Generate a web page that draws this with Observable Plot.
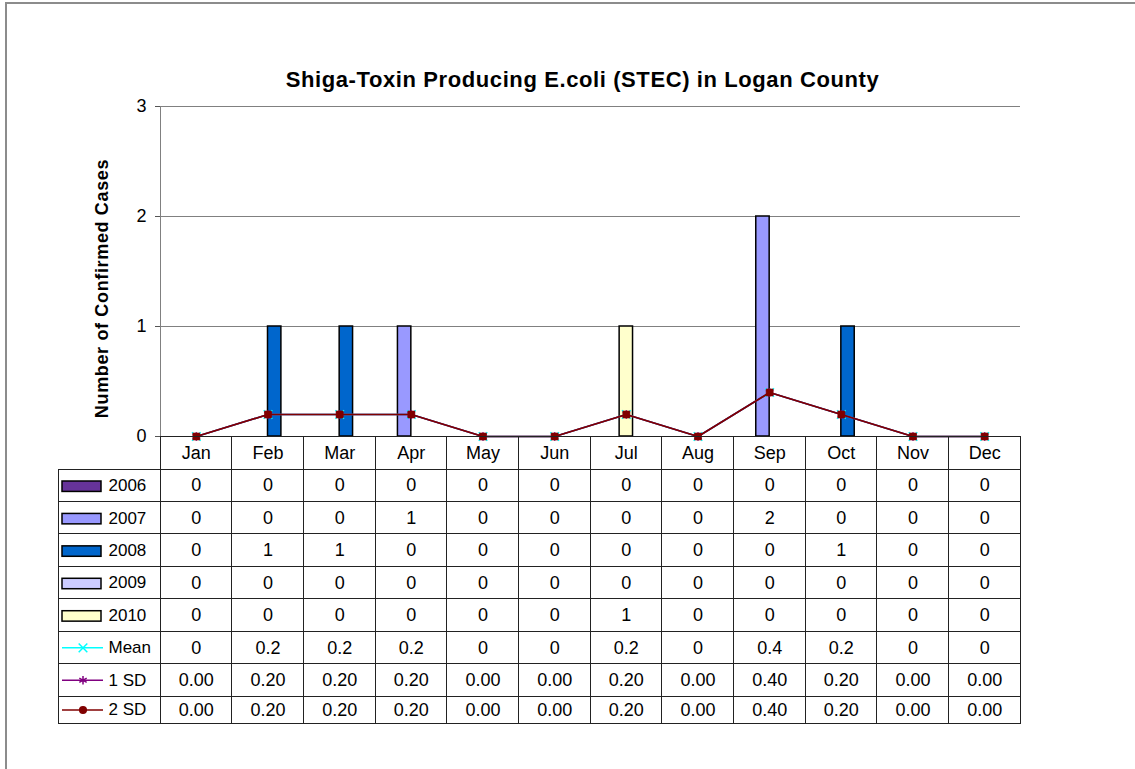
<!DOCTYPE html>
<html><head><meta charset="utf-8">
<script src="https://cdn.jsdelivr.net/npm/d3@7"></script>
<script src="https://cdn.jsdelivr.net/npm/@observablehq/plot@0.6"></script>
<style>
body{margin:0;background:#fff;}
#wrap{position:relative;width:1135px;height:769px;overflow:hidden;font-family:Arial,"Liberation Sans",sans-serif;}
#border{position:absolute;left:5px;top:2px;width:1200px;height:800px;border-left:2px solid #8c8c8c;border-top:2px solid #8c8c8c;}
#title{position:absolute;left:0;top:67px;width:1165px;text-align:center;font-weight:bold;font-size:22px;letter-spacing:0.6px;color:#000;}
.layer{position:absolute;left:0;top:0;}
</style></head><body>
<div id="wrap"><div id="border"></div><div id="title">Shiga-Toxin Producing E.coli (STEC) in Logan County</div></div>
<script>
const months = ["Jan","Feb","Mar","Apr","May","Jun","Jul","Aug","Sep","Oct","Nov","Dec"];
const seriesNames = ["2006","2007","2008","2009","2010"];
const y2006 = [0,0,0,0,0,0,0,0,0,0,0,0];
const y2007 = [0,0,0,1,0,0,0,0,2,0,0,0];
const y2008 = [0,1,1,0,0,0,0,0,0,1,0,0];
const y2009 = [0,0,0,0,0,0,0,0,0,0,0,0];
const y2010 = [0,0,0,0,0,0,1,0,0,0,0,0];
const statNames = ["Mean","1 SD","2 SD"];
const mean = [0,0.2,0.2,0.2,0,0,0.2,0,0.4,0.2,0,0];
const sd1 = [0,0.2,0.2,0.2,0,0,0.2,0,0.4,0.2,0,0];
const sd2 = [0,0.2,0.2,0.2,0,0,0.2,0,0.4,0.2,0,0];
const yTicks = [0,1,2,3];
const yLabel = "Number of Confirmed Cases";

// styles
const barColors = ["#663399","#9999FF","#0066CC","#CCCCFF","#FFFFCC"];
const barOffsets = [-2,-1,0,1,-0.5]; // bar left edge relative to month centre, in bar widths
const statColors = ["#00FFFF","#800080","#800000"];
const statSymbols = ["times","asterisk","square"];
const legendSymbols = ["times","asterisk","circle"];
const font = "Arial, 'Liberation Sans', sans-serif";
const W = 1135, H = 769;
const band = (1020 - 160) / 12, bw = 13.4;

const seriesVals = [y2006,y2007,y2008,y2009,y2010];
const statVals = [mean,sd1,sd2];
const toRows = arr => months.map((m,i)=>({month:m, value:arr[i]}));

const barMarks = seriesVals.map((arr,k)=>{
  const insetLeft = band/2 + barOffsets[k]*bw;
  return Plot.barY(toRows(arr).filter(d=>d.value>0), {
    x:"month", y:"value", fill:barColors[k], stroke:"#000", strokeWidth:1.5,
    insetLeft, insetRight: band - insetLeft - bw
  });
});
const lineMarks = statVals.flatMap((arr,k)=>[
  Plot.line(toRows(arr), {x:"month", y:"value", stroke:statColors[k], strokeWidth:1.6}),
  k === 2
    ? Plot.dot(toRows(arr), {x:"month", y:"value", symbol:"square", r:4, fill:statColors[k], stroke:statColors[k], strokeWidth:0.5})
    : Plot.dot(toRows(arr), {x:"month", y:"value", symbol:statSymbols[k], r:4, stroke:statColors[k], strokeWidth:1.5})
]);

const main = Plot.plot({
  width:W, height:H, marginLeft:160, marginRight:115, marginTop:106, marginBottom:333,
  style:{fontFamily:font, fontSize:"18px", background:"transparent", color:"#000", overflow:"visible"},
  x:{type:"band", domain:months, padding:0, round:false, axis:null},
  y:{domain:[0,3], axis:null},
  marks:[
    Plot.ruleY(yTicks.filter(t=>t>0), {stroke:"#808080", strokeWidth:1}),
    Plot.frame({anchor:"left", stroke:"#808080"}),
    Plot.axisY({ticks:yTicks, tickFormat:"d", tickSize:5, tickPadding:9, stroke:"#555", label:null, fontSize:18}),
    ...barMarks,
    Plot.ruleY([0], {stroke:"#000", strokeWidth:1}),
    ...lineMarks,
    Plot.text([yLabel], {frameAnchor:"left", textAnchor:"middle", rotate:-90, dx:-58, dy:17, fontWeight:"bold", fontSize:18, fill:"#000"})
  ]
});
main.classList.add("layer");
d3.select(main).selectAll("text").filter(function(){ return this.textContent === yLabel; }).attr("letter-spacing", "0.65px");

// table
const rowNames = [...seriesNames, ...statNames];
const rowVals = [...seriesVals, ...statVals];
const fmt = (r,v) => r >= 6 ? v.toFixed(2) : String(v);
const cells = [];
months.forEach((m,c)=>cells.push({r:-1,c}));
rowNames.forEach((n,r)=>{ for (let c=-1;c<12;c++) cells.push({r,c}); });
const valueTexts = [];
rowVals.forEach((arr,r)=>arr.forEach((v,c)=>valueTexts.push({r,c,t:fmt(r,v)})));
const headerTexts = months.map((m,c)=>({r:-1,c,t:m}));
const labelRows = rowNames.map((n,r)=>({r,t:n}));
const swatchMarks = seriesNames.map((n,k)=>Plot.rect([{r:k}], {
  x1:()=>-1, x2:()=>0, y1:"r", y2:d=>d.r+1, insetLeft:4, insetRight:59, insetTop:12, insetBottom:10,
  fill:barColors[k], stroke:"#000", strokeWidth:1.5
}));
const lineSwatchMarks = statNames.flatMap((n,k)=>{
  const d = [{r:5+k}];
  return [
    Plot.ruleY(d, {y:d=>d.r+0.5, x1:()=>-1, x2:()=>0, insetLeft:4, insetRight:57, stroke:statColors[k], strokeWidth:1.5}),
    Plot.dot(d, {x:()=>-1, y:d=>d.r+0.5, dx:24.5, symbol:legendSymbols[k], r:k===2?3.3:4,
      ...(k===2 ? {fill:statColors[k], stroke:statColors[k]} : {stroke:statColors[k], strokeWidth:1.5})})
  ];
});

const table = Plot.plot({
  width:W, height:H,
  style:{fontFamily:font, fontSize:"18px", background:"transparent", color:"#000", overflow:"visible"},
  x:{type:"linear", domain:[-1,0,12], range:[58,160,1020], axis:null},
  y:{type:"linear", domain:[-1,0,7,8], range:[436,469,696,723], axis:null},
  marks:[
    Plot.rect(cells, {x1:"c", x2:d=>d.c+1, y1:"r", y2:d=>d.r+1, fill:"none", stroke:"#222", strokeWidth:1, shapeRendering:"crispEdges"}),
    Plot.text(headerTexts, {x:d=>d.c+0.5, y:d=>d.r+0.5, text:"t", fontSize:18, fill:"#000"}),
    Plot.text(valueTexts, {x:d=>d.c+0.5, y:d=>d.r+0.5, text:"t", fontSize:18, fill:"#000"}),
    Plot.text(labelRows, {x:()=>-1, y:d=>d.r+0.5, dx:50, text:"t", textAnchor:"start", fontSize:17, fill:"#000"}),
    ...swatchMarks,
    ...lineSwatchMarks
  ]
});
table.classList.add("layer");

const wrap = document.getElementById("wrap");
wrap.appendChild(main);
wrap.appendChild(table);
</script>
</body></html>
